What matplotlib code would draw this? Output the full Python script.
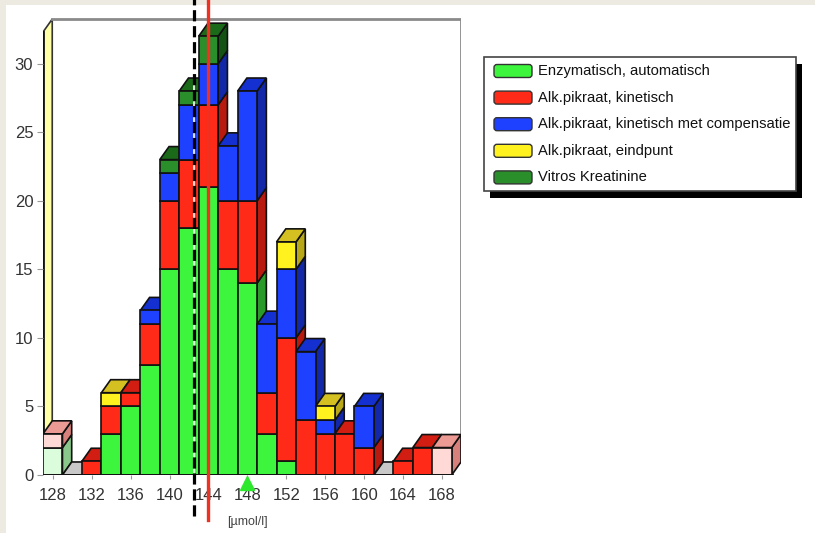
import numpy as np
import matplotlib.pyplot as plt
import matplotlib.colors as mcolors
from matplotlib.patches import Polygon, Rectangle, FancyBboxPatch

plt.rcParams['font.family'] = ['Liberation Sans Narrow', 'Liberation Sans', 'DejaVu Sans']

# klassen in umol/l
klassen = list(range(128, 170, 2))
enzymatisch = [2, 0, 0, 3, 5, 8, 15, 18, 21, 15, 14, 3, 1, 0, 0, 0, 0, 0, 0, 0, 0]
kinetisch = [1, 0, 1, 2, 1, 3, 5, 5, 6, 5, 6, 3, 9, 4, 3, 3, 2, 0, 1, 2, 2]
compensatie = [0, 0, 0, 0, 0, 1, 2, 4, 3, 4, 8, 5, 5, 5, 1, 0, 3, 0, 0, 0, 0]
eindpunt = [0, 0, 0, 1, 0, 0, 0, 0, 0, 0, 0, 0, 2, 0, 1, 0, 0, 0, 0, 0, 0]
vitros = [0, 0, 0, 0, 0, 0, 1, 1, 2, 0, 0, 0, 0, 0, 0, 0, 0, 0, 0, 0, 0]
randklassen = [128, 168]

namen = ['Enzymatisch, automatisch', 'Alk.pikraat, kinetisch',
         'Alk.pikraat, kinetisch met compensatie', 'Alk.pikraat, eindpunt',
         'Vitros Kreatinine']
xticks = list(range(128, 172, 4))
yticks = [0, 5, 10, 15, 20, 25, 30]

rode_lijn_x = 144.0
gestreepte_lijn_x = 142.5
pijl_x = 148

# kleuren: voorkant, zijkant, bovenkant
kleuren = [('#3df53d', '#2a9a2a', '#2fb82f'),
           ('#ff2a17', '#b81a10', '#d21e12'),
           ('#1e40ff', '#1228a8', '#1530d0'),
           ('#fff21e', '#b8a818', '#d4c020'),
           ('#2a8f2a', '#145214', '#1a6a1a')]


def mix(kleur, f):
    r = np.array(mcolors.to_rgb(kleur))
    return tuple(r * (1 - f) + f)


fig = plt.figure(figsize=(8.15, 5.33), dpi=100)
fig.patch.set_facecolor('#edeae2')
fig.add_artist(Rectangle((6 / 815, 0), 1, 528 / 533, transform=fig.transFigure,
                         fc='white', ec='none', zorder=-10))

ax = fig.add_axes([43 / 815, 58 / 533, 418 / 815, 458 / 533])
ax.set_facecolor('none')
dx, dy = 0.95, 0.95
x0, x1 = 127, 169
top = 32.3
ax.set_xlim(x0, x1 + dx)
ax.set_ylim(0, top + dy + 0.15)
for s in ax.spines.values():
    s.set_visible(False)

# wanden
ax.add_patch(Polygon([(x0, 0), (x0 + dx, dy), (x0 + dx, top + dy), (x0, top)],
                     closed=True, fc='#ffffa8', ec='#333333', lw=1.2, zorder=1))
ax.plot([x0, x0], [0, top], color='#111111', lw=2, zorder=1.5)
ax.plot([x0 + dx, x1 + dx, x1 + dx], [top + dy, top + dy, dy], color='#8a8a8a', lw=2, zorder=1)

# staven
series = [enzymatisch, kinetisch, compensatie, eindpunt, vitros]
for i, c in enumerate(klassen):
    vervaagd = c in randklassen
    b = 0
    bovenkleur = '#c8c8c8'
    fronts = []
    for s, waarden in enumerate(series):
        v = waarden[i]
        if v == 0:
            continue
        fk, zk, bk = kleuren[s]
        if vervaagd:
            fk, zk, bk = mix(fk, 0.82), mix(zk, 0.45), mix(bk, 0.55)
        ax.add_patch(Polygon([(c + 1, b), (c + 1 + dx, b + dy), (c + 1 + dx, b + v + dy), (c + 1, b + v)],
                             closed=True, fc=zk, ec='#111111', lw=1.2, zorder=2))
        fronts.append(Rectangle((c - 1, b), 2, v, fc=fk, ec='#111111', lw=1.2, zorder=2))
        bovenkleur = bk
        b += v
    ax.add_patch(Polygon([(c - 1, b), (c + 1, b), (c + 1 + dx, b + dy), (c - 1 + dx, b + dy)],
                         closed=True, fc=bovenkleur, ec='#111111', lw=1.2, zorder=2))
    for f in fronts:
        ax.add_patch(f)

ax.plot([x0, x1], [0, 0], color='#111111', lw=2, zorder=3)

# lijnen
ax.plot([gestreepte_lijn_x] * 2, [-3.0, 34.7], color='white', lw=1.2, zorder=9, clip_on=False)
ax.plot([gestreepte_lijn_x] * 2, [-3.0, 34.7], color='black', lw=2.3, dashes=(3.5, 1.5),
        zorder=10, clip_on=False)
ax.plot([rode_lijn_x] * 2, [-3.3, 34.7], color='#f03020', lw=2.4, zorder=10, clip_on=False)
ax.plot([pijl_x], [-0.55], marker='^', ms=10, color='#2ee82e', zorder=10, clip_on=False)

ax.set_xticks(xticks)
ax.set_yticks(yticks)
ax.tick_params(axis='x', length=3, pad=6, color='#999999', labelsize=12, labelcolor='#333333')
ax.tick_params(axis='y', length=4, pad=3, color='#999999', labelsize=12, labelcolor='#333333')
ax.text(pijl_x, -3.45, '[µmol/l]', ha='center', va='center', fontsize=9, color='#444444')

# legenda
lax = fig.add_axes([0, 0, 1, 1], facecolor='none')
lax.set_xlim(0, 815)
lax.set_ylim(533, 0)
lax.axis('off')
lax.add_patch(Rectangle((490, 64), 312, 134, fc='black', ec='none', zorder=1))
lax.add_patch(Rectangle((484, 57), 312, 134, fc='white', ec='#444444', lw=1.2, zorder=2))
for k, naam in enumerate(namen):
    y = 71 + k * 26.6
    lax.add_patch(FancyBboxPatch((494, y - 6.5), 38, 13, boxstyle='round,pad=0,rounding_size=3',
                                 fc=kleuren[k][0], ec='#333333', lw=1, zorder=3))
    lax.text(538, y, naam, ha='left', va='center', fontsize=10.6, color='#111111', zorder=3)

fig.savefig('out.png', dpi=100)
